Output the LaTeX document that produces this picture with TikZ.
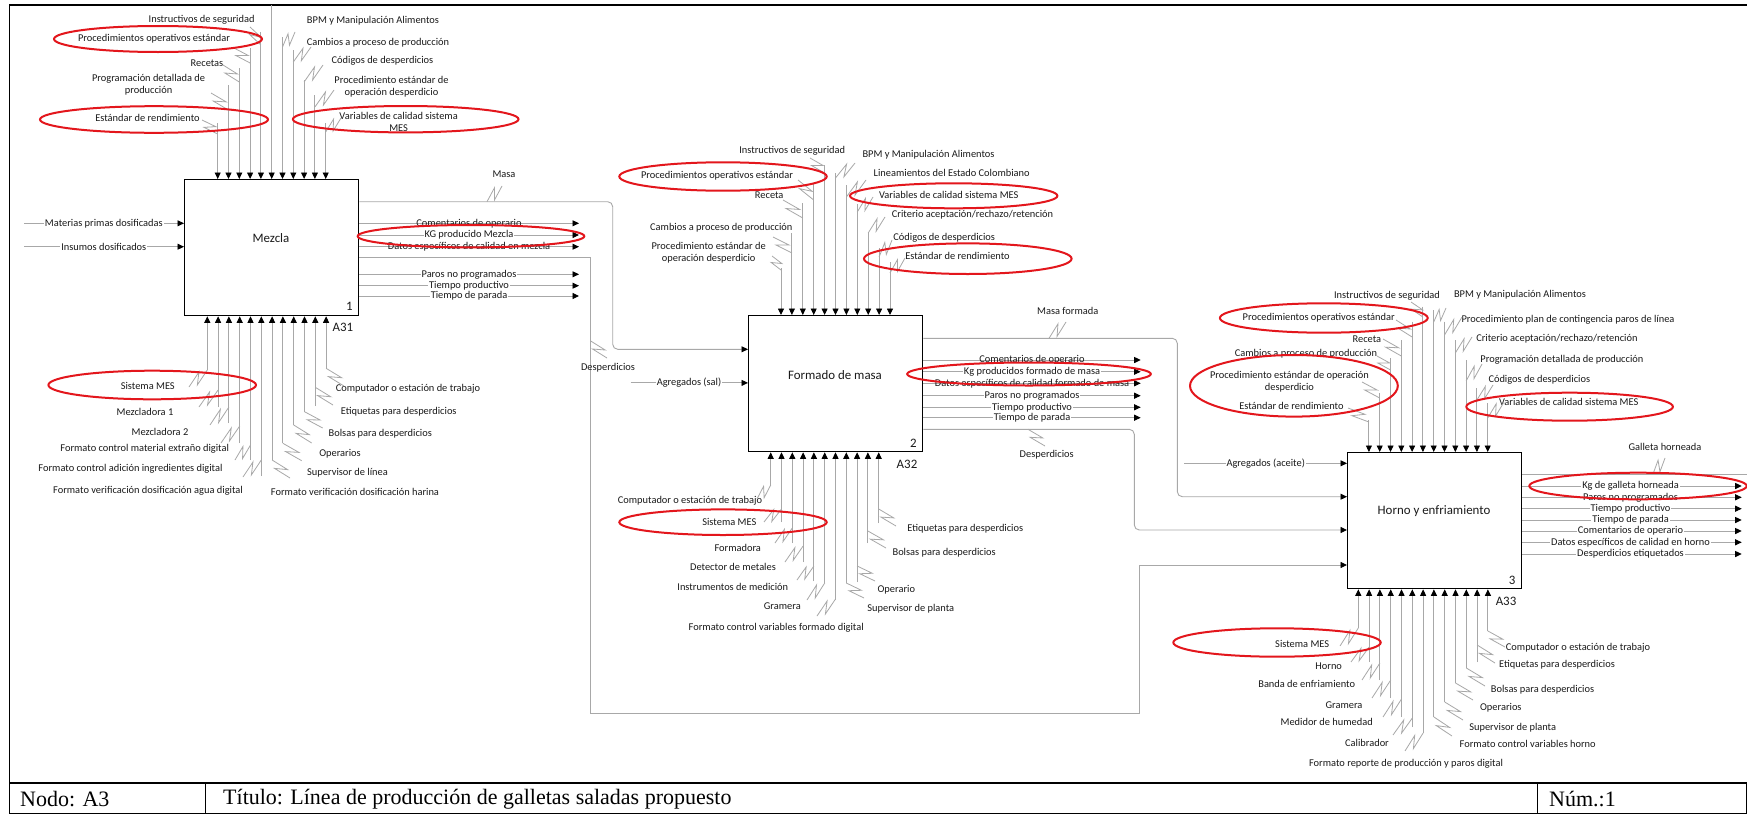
\documentclass[tikz,border=0pt]{standalone}
\usepackage{fontspec}
\setmainfont{Carlito}
\newfontfamily\barfont{Liberation Serif}
\usetikzlibrary{arrows.meta,calc}
\definecolor{wirecol}{HTML}{A8A8A8}
\definecolor{markred}{HTML}{E3161C}
\definecolor{inkcol}{HTML}{1A1A1A}

\tikzset{
  flow/.style={draw=wirecol, line width=0.9pt, -{Triangle[length=6.5pt,width=6pt,color=black]}},
  wire/.style={draw=wirecol, line width=0.9pt},
  squig/.style={draw=wirecol, line width=0.8pt, line join=miter},
  lbl/.style={font=\fontsize{10.4}{12}\selectfont, text=inkcol, inner xsep=1pt, inner ysep=0pt, align=center},
  onl/.style={lbl, fill=white},
  actbox/.style={draw=black, line width=1.3pt, fill=white, minimum width=174pt, minimum height=136pt, anchor=north west, inner sep=0pt},
  acttext/.style={font=\fontsize{12.9}{15}\selectfont, text=inkcol, inner sep=0pt},
  hl/.style={draw=markred, line width=2pt},
  bartext/.style={font=\barfont\fontsize{22}{24}\selectfont, anchor=west, inner sep=0pt},
}

% zig-zag leader joining a label to its arrow
\newcommand\zig[2]{\draw[squig] (#1) -- ($(#1)!0.7!(#2)!4.2pt!90:(#2)$) -- ($(#1)!0.3!(#2)!4.2pt!-90:(#2)$) -- (#2);}
% control arrow: id, box, x, top y, leader start, leader y on arrow, label position, label
\newcommand\ctl[8]{%
  \node[lbl] (#1l) at (#7) {#8};
  \coordinate (#1) at (#3,#4);
  \coordinate (#1z) at (#5);
  \coordinate (#1a) at (#3,#6);
  \draw[flow] (#1) -- (#1 |- #2.north);
  \zig{#1z}{#1a}}
% mechanism arrow: id, box, x, bottom y, leader start, leader y on arrow, label position, label
\newcommand\mch[8]{%
  \node[lbl] (#1l) at (#7) {#8};
  \coordinate (#1) at (#3,#4);
  \coordinate (#1z) at (#5);
  \coordinate (#1a) at (#3,#6);
  \draw[flow] (#1) -- (#1 |- #2.south);
  \zig{#1z}{#1a}}
% output arrow: id, box, y, end x, label x, label style, label
\newcommand\outp[7]{%
  \coordinate (#1) at (#4,#3);
  \draw[flow] (#1 -| #2.east) -- (#1);
  \node[#6] (#1l) at (#5,#3) {#7};}
% input arrow: id, box, y, start x, label x, label
\newcommand\inp[6]{%
  \coordinate (#1) at (#4,#3);
  \draw[flow] (#1) -- (#1 -| #2.west);
  \node[onl] (#1l) at (#5,#3) {#6};}

\begin{document}
\begin{tikzpicture}[x=1pt,y=-1pt]
\useasboundingbox (0,0) rectangle (1747,814);
\fill[white] (0,0) rectangle (1747,814);

% frame
\draw[line width=1.6pt] (9.5,783) -- (9.5,5) -- (1747,5);

% activity boxes
\node[actbox] (mz) at (184,179) {};
\node[actbox] (fm) at (748,315) {};
\node[actbox] (hr) at (1347,452) {};
\node[acttext] (mzt) at (271,238) {Mezcla};
\node[acttext] (fmt) at (835,375) {Formado de masa};
\node[acttext] (hrt) at (1434,511.5) {Horno y enfriamiento};
\node[acttext] (mzn) at (349.5,306.5) {1};
\node[acttext] (fmn) at (913.5,443) {2};
\node[acttext] (hrn) at (1512,580) {3};
\node[acttext] (mzc) at (343,327) {A31};
\node[acttext] (fmc) at (907,464) {A32};
\node[acttext] (hrc) at (1506,601) {A33};

% ---------- Mezcla: controls ----------
\ctl{mzc1}{mz}{217.7}{123}{202,120}{134}{147.5,118.3}{Estándar de rendimiento}
\ctl{mzc2}{mz}{228.5}{85}{211,93}{110}{148.6,85}{Programación detallada de\\producción}
\ctl{mzc3}{mz}{239.3}{68}{223,65}{82}{207,62.7}{Recetas}
\ctl{mzc4}{mz}{250.1}{48}{234,48}{63}{154,38.7}{Procedimientos operativos estándar}
\ctl{mzc5}{mz}{260.9}{32}{250,27}{45}{201.6,19.3}{Instructivos de seguridad}
\coordinate (mzc6) at (271.7,5);
\draw[flow] (mzc6) -- (mzc6 |- mz.north);
\ctl{mzc7}{mz}{282.5}{37}{295,32}{47}{373,21}{BPM y Manipulación Alimentos}
\ctl{mzc8}{mz}{293.3}{50}{311,47}{62}{378,42.7}{Cambios a proceso de producción}
\ctl{mzc9}{mz}{304.1}{80}{323,65}{82}{382.5,61}{Códigos de desperdicios}
\ctl{mzc10}{mz}{314.9}{95}{334,90}{107}{391.5,87}{Procedimiento estándar de\\operación desperdicio}
\ctl{mzc11}{mz}{325.7}{123}{341,118}{132}{398.6,122}{Variables de calidad sistema\\MES}

% ---------- Mezcla: mechanisms ----------
\mch{mzm1}{mz}{207.3}{370}{189,387}{370}{147.8,385.7}{Sistema MES}
\mch{mzm2}{mz}{218.1}{407}{199,407}{390}{145,411.7}{Mezcladora 1}
\mch{mzm3}{mz}{228.9}{423}{210,425}{407}{160,431.7}{Mezcladora 2}
\mch{mzm4}{mz}{239.7}{443}{221,443}{426}{144.7,448.3}{Formato control material extraño digital}
\mch{mzm5}{mz}{250.5}{460}{235,460}{445}{130.5,469}{Formato control adición ingredientes digital}
\mch{mzm6}{mz}{261.3}{476}{243,477}{460}{148,490.7}{Formato verificación dosificación agua digital}
\mch{mzm7}{mz}{272.1}{460}{290,478}{460}{355,492.3}{Formato verificación dosificación harina}
\mch{mzm8}{mz}{282.9}{443}{301.7,460.7}{443.3}{347.5,472.3}{Supervisor de línea}
\mch{mzm9}{mz}{293.7}{425}{311.7,443}{425}{340,454}{Operarios}
\mch{mzm10}{mz}{304.5}{412}{322.7,428}{411.7}{380.3,434}{Bolsas para desperdicios}
\mch{mzm11}{mz}{315.3}{406}{333,405}{387.3}{398.7,411.7}{Etiquetas para desperdicios}
\mch{mzm12}{mz}{326.1}{368}{344,386}{368.3}{408,389}{Computador o estación de trabajo}

% ---------- Mezcla: inputs and outputs ----------
\inp{mzi1}{mz}{223.3}{24}{103.8}{Materias primas dosificadas}
\inp{mzi2}{mz}{246.7}{24}{103.8}{Insumos dosificados}
\outp{mzo1}{mz}{223.3}{579}{469}{lbl}{Comentarios de operario}
\outp{mzo2}{mz}{235}{579}{469}{onl}{KG producido Mezcla}
\outp{mzo3}{mz}{246.7}{579}{469}{lbl}{Datos específicos de calidad en mezcla}
\outp{mzo4}{mz}{274.3}{579}{469}{onl}{Paros no programados}
\outp{mzo5}{mz}{285.7}{579}{469}{onl}{Tiempo productivo}
\outp{mzo6}{mz}{296}{579}{469}{onl}{Tiempo de parada}

% Masa: Mezcla -> Formado de masa
\coordinate (masa1) at (612.7,201.7);
\coordinate (masa2) at (612.7,349.3);
\draw[flow, rounded corners=5pt] (masa1 -| mz.east) -- (masa1) -- (masa2) -- (masa2 -| fm.west);
\node[lbl] (masal) at (504,174) {Masa};
\coordinate (masaz) at (502,186);
\coordinate (masaa) at (487,201.7);
\zig{masaz}{masaa}

% Desperdicios: Mezcla -> Horno y enfriamiento
\coordinate (desm1) at (590.7,257.7);
\coordinate (desm2) at (590.7,713);
\coordinate (desm3) at (1139.3,713);
\coordinate (desm4) at (1139.3,565);
\draw[flow] (desm1 -| mz.east) -- (desm1) -- (desm2) -- (desm3) -- (desm4) -- (desm4 -| hr.west);
\node[lbl] (desml) at (608,367.5) {Desperdicios};
\coordinate (desmz) at (607,358);
\coordinate (desma) at (590.7,341);
\zig{desmz}{desma}

% ---------- Formado de masa: controls ----------
\ctl{fmc1}{fm}{781}{268}{772,256}{270}{708.7,252.8}{Procedimiento estándar de\\operación desperdicio}
\ctl{fmc2}{fm}{791.9}{233}{773,237}{253}{721.3,227.3}{Cambios a proceso de producción}
\ctl{fmc3}{fm}{802.8}{203}{783,200}{218}{769.2,195.3}{Receta}
\ctl{fmc4}{fm}{813.7}{183}{798,180}{200}{717,175.7}{Procedimientos operativos estándar}
\ctl{fmc5}{fm}{824.6}{165}{810,158}{173}{792.2,150.7}{Instructivos de seguridad}
\ctl{fmc6}{fm}{835.5}{173}{855,163}{178}{928.5,155}{BPM y Manipulación Alimentos}
\ctl{fmc7}{fm}{846.4}{185}{866,180}{197}{951.7,173.3}{Lineamientos del Estado Colombiano}
\ctl{fmc8}{fm}{857.3}{204}{873,197}{212}{948.8,195.3}{Variables de calidad sistema MES}
\ctl{fmc9}{fm}{868.2}{233}{885,217}{233}{972.5,214.3}{Criterio aceptación/rechazo/retención}
\ctl{fmc10}{fm}{879.1}{248}{892,240}{257}{944.2,237.7}{Códigos de desperdicios}
\ctl{fmc11}{fm}{890}{262}{905,258}{273}{957.5,255.7}{Estándar de rendimiento}

% ---------- Formado de masa: mechanisms ----------
\mch{fmm1}{fm}{770.7}{485}{757,499}{485}{690,501}{Computador o estación de trabajo}
\mch{fmm2}{fm}{781.5}{522}{764,522}{509}{729.3,521.7}{Sistema MES}
\mch{fmm3}{fm}{792.3}{543}{775,543}{528}{737.7,547.7}{Formadora}
\mch{fmm4}{fm}{803.1}{562}{785,562}{546}{733,566.7}{Detector de metales}
\mch{fmm5}{fm}{813.9}{581}{797,580}{566}{732.8,586.7}{Instrumentos de medición}
\mch{fmm6}{fm}{824.7}{583}{807,600}{583}{782.3,605.7}{Gramera}
\mch{fmm7}{fm}{835.5}{600}{817,616}{599}{776.2,627.3}{Formato control variables formado digital}
\mch{fmm8}{fm}{846.3}{583}{864,598}{583}{910.8,609}{Supervisor de planta}
\mch{fmm9}{fm}{857.1}{582}{875,581}{566}{896.3,589.3}{Operario}
\mch{fmm10}{fm}{867.9}{543}{886,548}{531}{944.2,552.7}{Bolsas para desperdicios}
\mch{fmm11}{fm}{878.7}{523}{896,526}{509}{965.3,528.3}{Etiquetas para desperdicios}

% ---------- Formado de masa: inputs and outputs ----------
\inp{fmi2}{fm}{382.9}{630.7}{689}{Agregados (sal)}
\outp{fmo1}{fm}{360}{1140.7}{1032}{lbl}{Comentarios de operario}
\outp{fmo2}{fm}{371.7}{1140.7}{1032}{onl}{Kg producidos formado de masa}
\outp{fmo3}{fm}{383.3}{1140.7}{1032}{lbl}{Datos específicos de calidad formado de masa}
\outp{fmo4}{fm}{395.7}{1140.7}{1032}{onl}{Paros no programados}
\outp{fmo5}{fm}{407.3}{1140.7}{1032}{onl}{Tiempo productivo}
\outp{fmo6}{fm}{417.7}{1140.7}{1032}{onl}{Tiempo de parada}

% Masa formada: Formado de masa -> Horno y enfriamiento
\coordinate (mf1) at (1177.3,338.3);
\coordinate (mf2) at (1177.3,496.7);
\draw[flow, rounded corners=5pt] (mf1 -| fm.east) -- (mf1) -- (mf2) -- (mf2 -| hr.west);
\node[lbl] (mfl) at (1067.7,310.7) {Masa formada};
\coordinate (mfz) at (1066,322);
\coordinate (mfa) at (1049,338.3);
\zig{mfz}{mfa}

% Desperdicios: Formado de masa -> Horno y enfriamiento
\coordinate (desf1) at (1134.3,429.3);
\coordinate (desf2) at (1134.3,530);
\draw[flow, rounded corners=5pt] (desf1 -| fm.east) -- (desf1) -- (desf2) -- (desf2 -| hr.west);
\node[lbl] (desfl) at (1046.7,455) {Desperdicios};
\coordinate (desfz) at (1045,446);
\coordinate (desfa) at (1028,429.3);
\zig{desfz}{desfa}

% ---------- Horno y enfriamiento: controls ----------
\ctl{hrc1}{hr}{1368.9}{420}{1348,408}{422}{1291.4,406}{Estándar de rendimiento}
\ctl{hrc2}{hr}{1379.7}{393}{1362,382}{398}{1289.4,382.2}{Procedimiento estándar de operación\\desperdicio}
\ctl{hrc3}{hr}{1390.5}{358}{1377,356}{370}{1306,354}{Cambios a proceso de producción}
\ctl{hrc4}{hr}{1401.3}{340}{1383,339}{356}{1366.9,339}{Receta}
\ctl{hrc5}{hr}{1412.1}{321.7}{1396,320}{337}{1318.7,317.7}{Procedimientos operativos estándar}
\ctl{hrc6}{hr}{1422.9}{306.7}{1411,302}{317}{1387,296}{Instructivos de seguridad}
\ctl{hrc7}{hr}{1433.7}{310}{1446,308}{322}{1520,295}{BPM y Manipulación Alimentos}
\ctl{hrc8}{hr}{1444.5}{321.7}{1462,317}{335}{1568,319.3}{Procedimiento plan de contingencia paros de línea}
\ctl{hrc9}{hr}{1455.3}{340}{1472,337}{353}{1556.9,339}{Criterio aceptación/rechazo/retención}
\ctl{hrc10}{hr}{1466.1}{360}{1482,364}{381}{1561.9,359.3}{Programación detallada de producción}
\ctl{hrc11}{hr}{1476.9}{388}{1493,385}{400}{1539.3,379.3}{Códigos de desperdicios}
\ctl{hrc12}{hr}{1487.7}{403}{1504,402}{418}{1568.7,401.7}{Variables de calidad sistema MES}

% ---------- Horno y enfriamiento: mechanisms ----------
\mch{hrm1}{hr}{1358.3}{628}{1340,646}{628}{1302.2,644.3}{Sistema MES}
\mch{hrm2}{hr}{1369.1}{662}{1351,662}{647}{1328.7,666}{Horno}
\mch{hrm3}{hr}{1379.9}{680}{1362,680}{663}{1306.7,684.3}{Banda de enfriamiento}
\mch{hrm4}{hr}{1390.7}{698}{1372,698}{680}{1344,705}{Gramera}
\mch{hrm5}{hr}{1401.5}{717}{1383,717}{699}{1326.7,721.7}{Medidor de humedad}
\mch{hrm6}{hr}{1412.3}{727}{1393,735}{718}{1367,742.7}{Calibrador}
\mch{hrm7}{hr}{1423.1}{733}{1405,751}{733}{1406,764}{Formato reporte de producción y paros digital}
\mch{hrm8}{hr}{1433.9}{717}{1452,736}{717}{1527.7,744}{Formato control variables horno}
\mch{hrm9}{hr}{1444.7}{702}{1463,720}{702}{1512.7,727.3}{Supervisor de planta}
\mch{hrm10}{hr}{1455.5}{683}{1473,700}{683}{1500.8,707.3}{Operarios}
\mch{hrm11}{hr}{1466.3}{668}{1485,686}{668}{1542.5,689.3}{Bolsas para desperdicios}
\mch{hrm12}{hr}{1477.1}{662}{1495,663}{645}{1557,665}{Etiquetas para desperdicios}
\mch{hrm13}{hr}{1487.9}{631}{1505,647}{631}{1578,647.7}{Computador o estación de trabajo}

% ---------- Horno y enfriamiento: inputs and outputs ----------
\inp{hri1}{hr}{463.3}{1184}{1265.7}{Agregados (aceite)}
\coordinate (gal) at (1747,474);
\draw[wire] (gal -| hr.east) -- (gal);
\node[lbl] (gall) at (1665,447.3) {Galleta horneada};
\coordinate (galz) at (1665,458);
\coordinate (gala) at (1653,474);
\zig{galz}{gala}
\outp{hro1}{hr}{486}{1741.7}{1630.5}{onl}{Kg de galleta horneada}
\outp{hro2}{hr}{497.3}{1741.7}{1630.5}{onl}{Paros no programados}
\outp{hro3}{hr}{508.7}{1741.7}{1630.5}{onl}{Tiempo productivo}
\outp{hro4}{hr}{520}{1741.7}{1630.5}{onl}{Tiempo de parada}
\outp{hro5}{hr}{531}{1741.7}{1630.5}{onl}{Comentarios de operario}
\outp{hro6}{hr}{542.3}{1741.7}{1630.5}{onl}{Datos específicos de calidad en horno}
\outp{hro7}{hr}{554}{1741.7}{1630.5}{onl}{Desperdicios etiquetados}

% ---------- red highlights ----------
\draw[hl] (158,39) ellipse [x radius=104pt, y radius=13pt];
\draw[hl] (154,119.5) ellipse [x radius=114pt, y radius=13.3pt];
\draw[hl] (405.7,119.2) ellipse [x radius=112.8pt, y radius=13.2pt];
\draw[hl] (471,236.2) ellipse [x radius=113.3pt, y radius=11.2pt];
\draw[hl] (152.2,385) ellipse [x radius=103.8pt, y radius=14.3pt];
\draw[hl] (723,176.5) ellipse [x radius=103.7pt, y radius=14.2pt];
\draw[hl] (953.7,195.8) ellipse [x radius=103.7pt, y radius=12.5pt];
\draw[hl] (967.8,258.7) ellipse [x radius=103.8pt, y radius=15.3pt];
\draw[hl] (1029,374) ellipse [x radius=121.8pt, y radius=11.5pt];
\draw[hl] (723,522.2) ellipse [x radius=103.7pt, y radius=12.8pt];
\draw[hl] (1323.8,318) ellipse [x radius=103.9pt, y radius=14.7pt];
\draw[hl] (1293.9,385.8) ellipse [x radius=103.9pt, y radius=30.8pt];
\draw[hl] (1569.6,406.7) ellipse [x radius=103.3pt, y radius=14pt];
\draw[hl] (1638,486) ellipse [x radius=108.7pt, y radius=13.3pt];
\draw[hl] (1277,642.5) ellipse [x radius=103.7pt, y radius=14.2pt];

% ---------- title bar ----------
\draw[line width=1.4pt] (9.5,783) rectangle (1746.3,813.3);
\draw[line width=1pt] (205,783) -- (205,813.3);
\draw[line width=1pt] (1537,783) -- (1537,813.3);
\node[bartext] (nodo) at (20,799) {Nodo: A3};
\node[bartext] (titulo) at (223,799) {Título: Línea de producción de galletas saladas propuesto};
\node[bartext] (num) at (1549,799) {Núm.:1};
\end{tikzpicture}
\end{document}
